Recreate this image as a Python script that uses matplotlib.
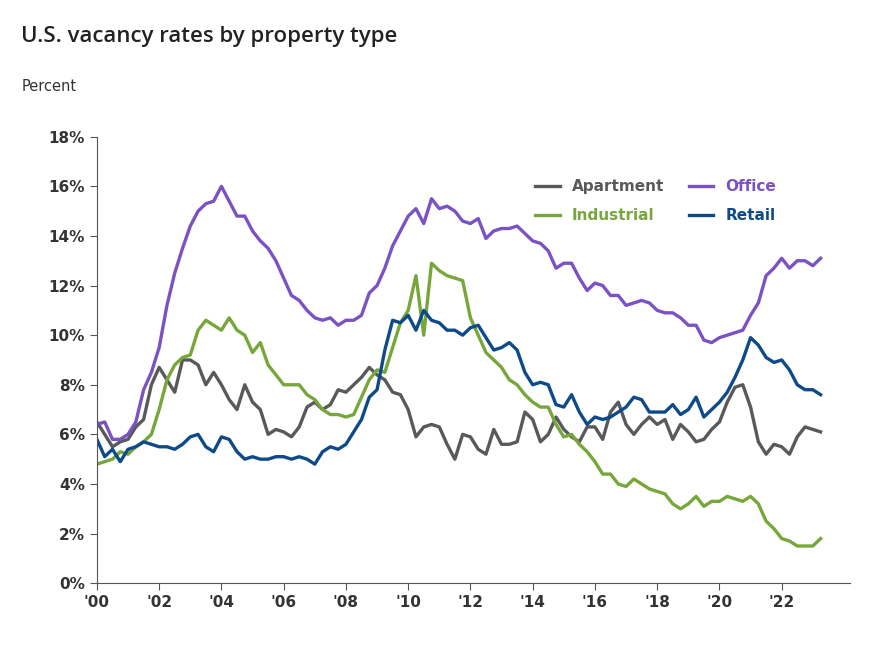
import numpy as np
import matplotlib.pyplot as plt
from matplotlib.ticker import FuncFormatter

# quarterly values, 2000 Q1 .. 2023 Q2
apartment = [6.5, 6.0, 5.5, 5.7, 5.8, 6.3, 6.6, 8.0, 8.7, 8.2, 7.7, 9.0, 9.0, 8.8, 8.0, 8.5,
             8.0, 7.4, 7.0, 8.0, 7.3, 7.0, 6.0, 6.2, 6.1, 5.9, 6.3, 7.1, 7.3, 7.0, 7.2, 7.8,
             7.7, 8.0, 8.3, 8.7, 8.4, 8.2, 7.7, 7.6, 7.0, 5.9, 6.3, 6.4, 6.3, 5.6, 5.0, 6.0,
             5.9, 5.4, 5.2, 6.2, 5.6, 5.6, 5.7, 6.9, 6.6, 5.7, 6.0, 6.7, 6.2, 5.9, 5.7, 6.3,
             6.3, 5.8, 6.9, 7.3, 6.4, 6.0, 6.4, 6.7, 6.4, 6.6, 5.8, 6.4, 6.1, 5.7, 5.8, 6.2,
             6.5, 7.3, 7.9, 8.0, 7.1, 5.7, 5.2, 5.6, 5.5, 5.2, 5.9, 6.3, 6.2, 6.1]
industrial = [4.8, 4.9, 5.0, 5.3, 5.2, 5.5, 5.7, 6.0, 7.0, 8.2, 8.8, 9.1, 9.2, 10.2, 10.6, 10.4,
              10.2, 10.7, 10.2, 10.0, 9.3, 9.7, 8.8, 8.4, 8.0, 8.0, 8.0, 7.6, 7.4, 7.0, 6.8, 6.8,
              6.7, 6.8, 7.5, 8.2, 8.6, 8.5, 9.5, 10.5, 11.0, 12.4, 10.0, 12.9, 12.6, 12.4, 12.3, 12.2,
              10.7, 10.0, 9.3, 9.0, 8.7, 8.2, 8.0, 7.6, 7.3, 7.1, 7.1, 6.4, 5.9, 6.0, 5.6, 5.3,
              4.9, 4.4, 4.4, 4.0, 3.9, 4.2, 4.0, 3.8, 3.7, 3.6, 3.2, 3.0, 3.2, 3.5, 3.1, 3.3,
              3.3, 3.5, 3.4, 3.3, 3.5, 3.2, 2.5, 2.2, 1.8, 1.7, 1.5, 1.5, 1.5, 1.8]
office = [6.4, 6.5, 5.8, 5.8, 6.0, 6.5, 7.8, 8.5, 9.5, 11.2, 12.5, 13.5, 14.4, 15.0, 15.3, 15.4,
          16.0, 15.4, 14.8, 14.8, 14.2, 13.8, 13.5, 13.0, 12.3, 11.6, 11.4, 11.0, 10.7, 10.6, 10.7, 10.4,
          10.6, 10.6, 10.8, 11.7, 12.0, 12.7, 13.6, 14.2, 14.8, 15.1, 14.5, 15.5, 15.1, 15.2, 15.0, 14.6,
          14.5, 14.7, 13.9, 14.2, 14.3, 14.3, 14.4, 14.1, 13.8, 13.7, 13.4, 12.7, 12.9, 12.9, 12.3, 11.8,
          12.1, 12.0, 11.6, 11.6, 11.2, 11.3, 11.4, 11.3, 11.0, 10.9, 10.9, 10.7, 10.4, 10.4, 9.8, 9.7,
          9.9, 10.0, 10.1, 10.2, 10.8, 11.3, 12.4, 12.7, 13.1, 12.7, 13.0, 13.0, 12.8, 13.1]
retail = [5.8, 5.1, 5.4, 4.9, 5.4, 5.5, 5.7, 5.6, 5.5, 5.5, 5.4, 5.6, 5.9, 6.0, 5.5, 5.3,
          5.9, 5.8, 5.3, 5.0, 5.1, 5.0, 5.0, 5.1, 5.1, 5.0, 5.1, 5.0, 4.8, 5.3, 5.5, 5.4,
          5.6, 6.1, 6.6, 7.5, 7.8, 9.4, 10.6, 10.5, 10.8, 10.2, 11.0, 10.6, 10.5, 10.2, 10.2, 10.0,
          10.3, 10.4, 9.9, 9.4, 9.5, 9.7, 9.4, 8.5, 8.0, 8.1, 8.0, 7.2, 7.1, 7.6, 6.9, 6.4,
          6.7, 6.6, 6.7, 6.9, 7.1, 7.5, 7.4, 6.9, 6.9, 6.9, 7.2, 6.8, 7.0, 7.5, 6.7, 7.0,
          7.3, 7.7, 8.3, 9.0, 9.9, 9.6, 9.1, 8.9, 9.0, 8.6, 8.0, 7.8, 7.8, 7.6]

years = 2000 + np.arange(len(office)) / 4
year_ticks = list(range(2000, 2023, 2))

fig = plt.figure(figsize=(8.81, 6.48), dpi=100)
fig.text(0.024, 0.935, "U.S. vacancy rates by property type", fontsize=16,
         color="#222222", family="Open Sans", fontweight="semibold")
fig.text(0.024, 0.86, "Percent", fontsize=10.5, color="#333333")

ax = fig.add_axes([0.110, 0.100, 0.855, 0.689])
ax.plot(years, apartment, color="#58595b", lw=2.4, label="Apartment")
ax.plot(years, industrial, color="#77a73a", lw=2.4, label="Industrial")
ax.plot(years, office, color="#7b52c4", lw=2.4, label="Office")
ax.plot(years, retail, color="#0e4a8a", lw=2.4, label="Retail")

ax.set_ylim(0, 18)
ax.set_yticks(range(0, 19, 2))
ax.yaxis.set_major_formatter(FuncFormatter(lambda v, p: f"{v:.0f}%"))
ax.set_xlim(2000, 2024.2)
ax.set_xticks(year_ticks)
ax.set_xticklabels([f"'{y % 100:02d}" for y in year_ticks])
for lab in ax.get_xticklabels() + ax.get_yticklabels():
    lab.set_fontweight("bold")
    lab.set_color("#333333")
    lab.set_fontsize(11)
ax.tick_params(direction="out", length=5, color="#555555")
ax.spines['top'].set_visible(False)
ax.spines['right'].set_visible(False)
ax.spines['left'].set_color("#555555")
ax.spines['bottom'].set_color("#555555")

leg = ax.legend(ncol=2, loc="upper right", bbox_to_anchor=(0.92, 0.935), frameon=False,
                labelcolor="linecolor", handlelength=1.6, columnspacing=1.6,
                labelspacing=0.9, prop={"weight": "bold", "size": 11})

plt.savefig("out.png", dpi=100, facecolor="white")
plt.close()
